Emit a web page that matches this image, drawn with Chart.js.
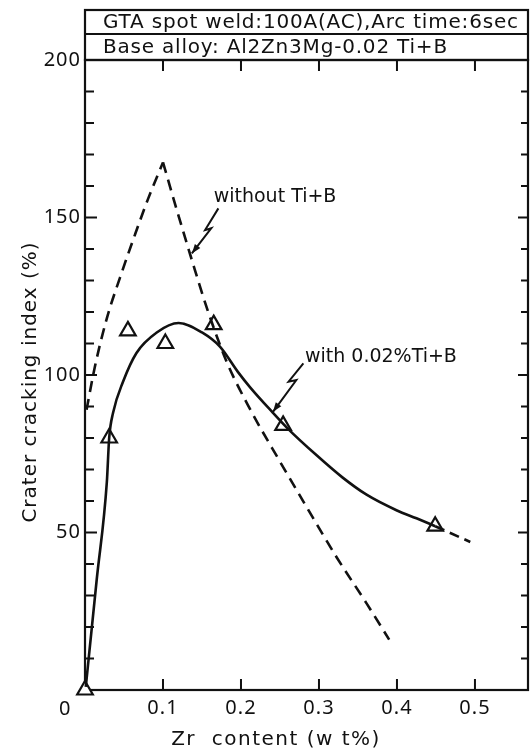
<!DOCTYPE html>
<html>
<head>
<meta charset="utf-8">
<script src="https://cdn.jsdelivr.net/npm/chart.js"></script>
<style>
  html, body { margin: 0; padding: 0; background: #fff; }
  #wrap { width: 530px; height: 750px; }
</style>
</head>
<body>
<div id="wrap"><canvas id="chart" width="530" height="750"></canvas></div>
<script>
// measured points (triangles)
const pointsX = [0.0, 0.031, 0.055, 0.103, 0.165, 0.254, 0.449];
const pointsY = [0, 80, 114, 110, 116, 84, 52];

// "with 0.02% Ti+B" curve
const withX = [0.001, 0.015, 0.028, 0.031, 0.036, 0.049, 0.066, 0.092, 0.12, 0.15, 0.173, 0.196, 0.212, 0.241, 0.26, 0.297, 0.33, 0.361, 0.40, 0.425, 0.449];
const withY = [1, 35, 66, 80, 88, 98, 107, 113.5, 116.5, 113.5, 109, 101, 96, 88, 83, 74.5, 67.5, 62, 57, 54.5, 52];
const withExtX = [0.449, 0.494];
const withExtY = [52, 47];

// "without Ti+B" curve, two branches meeting at the peak
const noTiLeftX = [0.002, 0.013, 0.028, 0.045, 0.064, 0.081, 0.1];
const noTiLeftY = [89, 103, 118, 131, 144.5, 156, 167.5];
const noTiRightX = [0.1, 0.117, 0.137, 0.158, 0.182, 0.212, 0.25, 0.282, 0.323, 0.361, 0.39];
const noTiRightY = [167.5, 153, 136.5, 120, 104, 89, 72.5, 59, 42, 27.5, 16];

// pointer arrows for the curve labels (data coords)
const arrowNoTiX = [0.171, 0.154, 0.162, 0.137];
const arrowNoTiY = [152.9, 146, 146.6, 138.6];
const arrowWithX = [0.280, 0.261, 0.271, 0.241];
const arrowWithY = [103.7, 97.9, 98.4, 88.3];

const labelNoTi = { text: 'without Ti+B', x: 0.165, y: 156.5 };
const labelWith = { text: 'with 0.02%Ti+B', x: 0.282, y: 105.8 };

const headerLines = ['GTA spot weld:100A(AC),Arc time:6sec', 'Base alloy: Al2Zn3Mg-0.02 Ti+B'];
const xTitle = 'Zr  content (w t%)';
const yTitle = 'Crater cracking index (%)';

const FONT = "'DejaVu Sans', sans-serif";
const TICKFONT = "'Noto Sans', sans-serif";
const INK = '#111';

const toXY = (xs, ys) => xs.map((x, i) => ({ x: x, y: ys[i] }));

function drawArrow(ctx, xs, ys, sx, sy) {
    const px = xs.map(v => sx.getPixelForValue(v));
    const py = ys.map(v => sy.getPixelForValue(v));
    ctx.beginPath();
    ctx.moveTo(px[0], py[0]);
    for (let i = 1; i < px.length; i++) ctx.lineTo(px[i], py[i]);
    ctx.stroke();
    // arrow head at the last point
    const n = px.length - 1;
    const ang = Math.atan2(py[n] - py[n - 1], px[n] - px[n - 1]);
    const len = 10, w = 0.35;
    ctx.beginPath();
    ctx.moveTo(px[n], py[n]);
    ctx.lineTo(px[n] - len * Math.cos(ang - w), py[n] - len * Math.sin(ang - w));
    ctx.lineTo(px[n] - len * Math.cos(ang + w), py[n] - len * Math.sin(ang + w));
    ctx.closePath();
    ctx.fill();
}

const framePlugin = {
    id: 'frame',
    beforeDraw(chart) {
        chart.ctx.letterSpacing = '1px';
    },
    beforeDatasetsDraw(chart) {
        const { ctx, chartArea: a, scales: { x, y } } = chart;
        ctx.save();
        ctx.strokeStyle = INK;
        ctx.fillStyle = INK;
        ctx.lineWidth = 2.2;
        // header boxes
        const top = 10, mid = 34;
        ctx.strokeRect(a.left, top, a.right - a.left, a.top - top);
        ctx.beginPath();
        ctx.moveTo(a.left, mid); ctx.lineTo(a.right, mid);
        ctx.stroke();
        ctx.letterSpacing = '0.8px';
        ctx.font = '20px ' + FONT;
        ctx.textBaseline = 'middle';
        ctx.textAlign = 'left';
        ctx.fillText(headerLines[0], a.left + 18, (top + mid) / 2 + 1);
        ctx.fillText(headerLines[1], a.left + 18, (mid + a.top) / 2 + 1);
        // plot frame
        ctx.strokeRect(a.left, a.top, a.right - a.left, a.bottom - a.top);
        // inward ticks
        ctx.lineWidth = 2;
        ctx.beginPath();
        x.ticks.forEach(t => {
            if (t.value <= 0) return;
            const px = x.getPixelForValue(t.value);
            ctx.moveTo(px, a.bottom); ctx.lineTo(px, a.bottom - 11);
            ctx.moveTo(px, a.top); ctx.lineTo(px, a.top + 11);
        });
        y.ticks.forEach(t => {
            if (t.value <= 0 || t.value >= 200) return;
            const py = y.getPixelForValue(t.value);
            const len = t.value % 50 === 0 ? 12 : 9;
            ctx.moveTo(a.left, py); ctx.lineTo(a.left + len, py);
            ctx.moveTo(a.right, py); ctx.lineTo(a.right - len + 2, py);
        });
        ctx.stroke();
        // shared origin label
        ctx.font = '20px ' + TICKFONT;
        ctx.textAlign = 'center';
        ctx.fillText('0', a.left - 20, a.bottom + 19);
        // axis titles
        ctx.font = '20px ' + FONT;
        ctx.letterSpacing = '1.5px';
        ctx.fillText(xTitle, 276, 740);
        ctx.save();
        ctx.translate(31, (a.top + a.bottom) / 2 + 7);
        ctx.rotate(-Math.PI / 2);
        ctx.letterSpacing = '1px';
        ctx.fillText(yTitle, 0, 0);
        ctx.restore();
        ctx.restore();
    },
    afterDatasetsDraw(chart) {
        const { ctx, scales: { x, y } } = chart;
        ctx.save();
        ctx.strokeStyle = INK;
        ctx.fillStyle = INK;
        ctx.lineWidth = 2;
        drawArrow(ctx, arrowNoTiX, arrowNoTiY, x, y);
        drawArrow(ctx, arrowWithX, arrowWithY, x, y);
        ctx.letterSpacing = '0px';
        ctx.font = '19px ' + FONT;
        ctx.textBaseline = 'middle';
        ctx.textAlign = 'left';
        [labelNoTi, labelWith].forEach(l => {
            ctx.fillText(l.text, x.getPixelForValue(l.x), y.getPixelForValue(l.y));
        });
        ctx.restore();
    }
};

const lineBase = {
    borderColor: INK,
    borderWidth: 2.6,
    pointRadius: 0,
    fill: false,
    cubicInterpolationMode: 'monotone',
    clip: false
};

new Chart(document.getElementById('chart'), {
    type: 'scatter',
    data: {
        datasets: [
            Object.assign({}, lineBase, { type: 'line', data: toXY(withX, withY) }),
            Object.assign({}, lineBase, { type: 'line', data: toXY(withExtX, withExtY), borderDash: [10, 6] }),
            Object.assign({}, lineBase, { type: 'line', data: toXY(noTiLeftX, noTiLeftY), borderDash: [11, 7] }),
            Object.assign({}, lineBase, { type: 'line', data: toXY(noTiRightX, noTiRightY), borderDash: [11, 7] }),
            {
                data: toXY(pointsX, pointsY),
                pointStyle: 'triangle',
                pointRadius: 9,
                pointBackgroundColor: '#fff',
                pointBorderColor: INK,
                pointBorderWidth: 2.2,
                clip: false
            }
        ]
    },
    options: {
        responsive: false,
        animation: false,
        layout: { autoPadding: false, padding: { top: 60, right: 2, left: 0, bottom: 0 } },
        plugins: { legend: { display: false }, tooltip: { enabled: false } },
        scales: {
            x: {
                type: 'linear',
                min: 0,
                max: 0.568,
                grid: { display: false, drawTicks: false },
                border: { display: false },
                ticks: {
                    stepSize: 0.1,
                    includeBounds: false,
                    autoSkip: false,
                    maxRotation: 0,
                    padding: 6,
                    color: INK,
                    font: { family: TICKFONT, size: 20 },
                    callback: v => (v > 0 ? (+v).toFixed(1) : '')
                },
                title: { display: false },
                afterFit: s => { s.height = 60; s.paddingLeft = 0; s.paddingRight = 0; }
            },
            y: {
                type: 'linear',
                min: 0,
                max: 200,
                grid: { display: false, drawTicks: false },
                border: { display: false },
                ticks: {
                    stepSize: 10,
                    autoSkip: false,
                    padding: 4,
                    color: INK,
                    font: { family: TICKFONT, size: 20 },
                    callback: v => (v > 0 && v % 50 === 0 ? String(v) : '')
                },
                title: { display: false },
                afterFit: s => { s.width = 85; s.paddingTop = 0; s.paddingBottom = 0; }
            }
        }
    },
    plugins: [framePlugin]
});
</script>
</body>
</html>
